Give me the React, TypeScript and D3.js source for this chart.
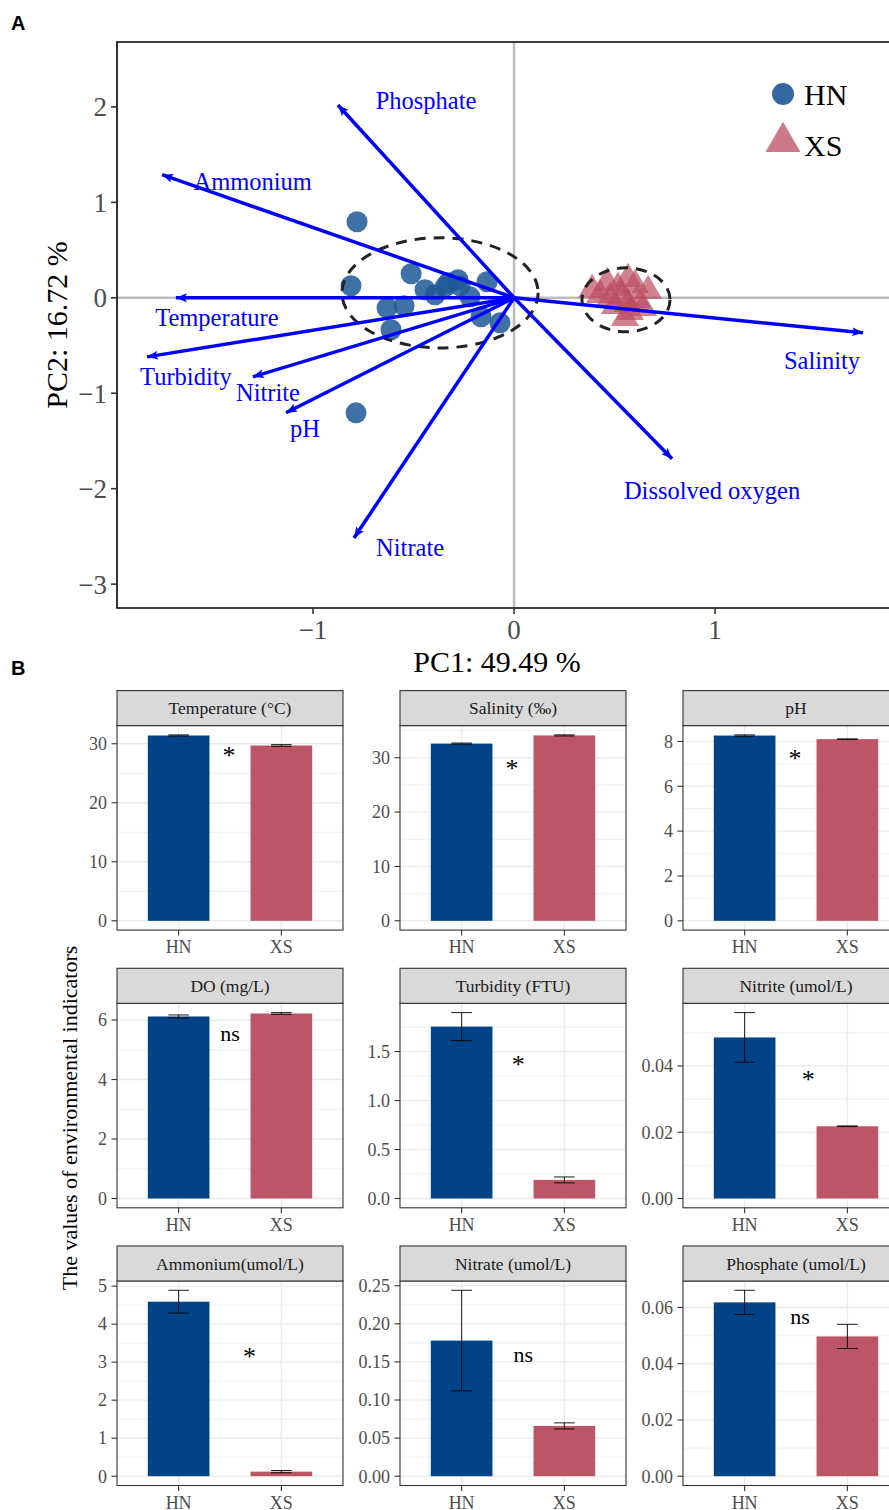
import React from "react";
import * as d3 from "d3";

// ---------- PCA data ----------
const hnPC1 = [-0.781, -0.811, -0.512, -0.443, -0.393, -0.632, -0.547, -0.612, -0.328, -0.279, -0.269, -0.134, -0.219, -0.164, -0.07, -0.343, -0.786];
const hnPC2 = [0.797, 0.126, 0.252, 0.084, 0.031, -0.105, -0.084, -0.335, 0.157, 0.189, 0.126, 0.168, 0.01, -0.199, -0.262, 0.115, -1.205];
const xsPC1 = [0.388, 0.463, 0.567, 0.667, 0.537, 0.612, 0.502, 0.577, 0.642, 0.552, 0.428, 0.602, 0.517, 0.567, 0.478];
const xsPC2 = [0.084, 0.157, 0.199, 0.073, 0.021, -0.021, -0.084, -0.147, -0.105, -0.21, 0.031, 0.136, 0.105, -0.063, 0.0];

const loadNames = ["Phosphate", "Ammonium", "Temperature", "Turbidity", "Nitrite", "pH", "Nitrate", "Dissolved oxygen", "Salinity"];
const loadPC1 = [-0.876, -1.751, -1.682, -1.826, -1.299, -1.134, -0.796, 0.786, 1.736];
const loadPC2 = [2.02, 1.29, 0.0, -0.619, -0.828, -1.205, -2.516, -1.687, -0.367];
const labelPC1 = [-0.438, -1.30, -1.478, -1.632, -1.224, -1.04, -0.517, 0.985, 1.532];
const labelPC2 = [2.065, 1.22, -0.21, -0.828, -0.996, -1.373, -2.62, -2.023, -0.66];

const pcaXTicks = [-1, 0, 1];
const pcaYTicks = [2, 1, 0, -1, -2, -3];

// ---------- Bar data ----------
const groups = ["HN", "XS"];
const panelTitles = ["Temperature (°C)", "Salinity (‰)", "pH", "DO (mg/L)", "Turbidity (FTU)", "Nitrite (umol/L)", "Ammonium(umol/L)", "Nitrate (umol/L)", "Phosphate (umol/L)"];
const hnMean = [31.4, 32.6, 8.26, 6.12, 1.755, 0.0486, 4.59, 0.178, 0.0618];
const hnSe = [0.1, 0.1, 0.03, 0.05, 0.143, 0.0075, 0.3, 0.066, 0.0043];
const xsMean = [29.7, 34.1, 8.1, 6.22, 0.19, 0.0218, 0.12, 0.066, 0.0497];
const xsSe = [0.15, 0.1, 0.01, 0.03, 0.03, 0.0001, 0.03, 0.004, 0.0043];
const sigLabel = ["*", "*", "*", "ns", "*", "*", "*", "ns", "ns"];
const sigX = [1.49, 1.49, 1.49, 1.5, 1.55, 1.62, 1.69, 1.6, 1.54];
const sigY = [28.9, 28.9, 7.46, 5.45, 1.415, 0.0373, 3.28, 0.157, 0.0558];
const panelTicks = [
  [0, 10, 20, 30],
  [0, 10, 20, 30],
  [0, 2, 4, 6, 8],
  [0, 2, 4, 6],
  [0, 0.5, 1.0, 1.5],
  [0, 0.02, 0.04],
  [0, 1, 2, 3, 4, 5],
  [0, 0.05, 0.1, 0.15, 0.2, 0.25],
  [0, 0.02, 0.04, 0.06],
];
const tickDecimals = [0, 0, 0, 0, 1, 2, 0, 2, 2];

const SERIF = "'Liberation Serif', 'Times New Roman', serif";
const HN_COL = "#004386";
const XS_COL = "#bc5565";

function fmtMinus(v: number) {
  return v < 0 ? "\u2212" + Math.abs(v) : String(v);
}

function PCA() {
  const x = d3.scaleLinear().domain([-1.975, 1.9]).range([117, 896]);
  const y = d3.scaleLinear().domain([-3.25, 2.68]).range([608, 42]);
  const x0 = x(0), y0 = y(0);
  const tri = d3.symbol().type(d3.symbolTriangle).size(340)();
  return (
    <g>
      <defs>
        <marker id="arr" markerUnits="userSpaceOnUse" markerWidth="12" markerHeight="10" refX="11" refY="5" orient="auto">
          <path d="M0,0.5 L11,5 L0,9.5 L2.5,5 z" fill="#0000ff" />
        </marker>
        <clipPath id="pcaClip">
          <rect x={117} y={42} width={780} height={566} />
        </clipPath>
      </defs>
      <g clipPath="url(#pcaClip)">
        <line x1={x0} x2={x0} y1={42} y2={608} stroke="#bdbdbd" strokeWidth={2.5} />
        <line x1={117} x2={896} y1={y0} y2={y0} stroke="#bdbdbd" strokeWidth={2.5} />
        {hnPC1.map((v, i) => (
          <circle key={"h" + i} cx={x(v)} cy={y(hnPC2[i])} r={10.5} fill="#1f5896" fillOpacity={0.85} />
        ))}
        {xsPC1.map((v, i) => (
          <path key={"x" + i} d={tri as string} transform={`translate(${x(v)},${y(xsPC2[i])})`} fill="#bc4d60" fillOpacity={0.7} />
        ))}
        <ellipse cx={x(-0.368)} cy={y(0.052)} rx={x(0.488) - x0} ry={y0 - y(0.577)} fill="none" stroke="#222" strokeWidth={3} strokeDasharray="11,8" />
        <ellipse cx={x(0.557)} cy={y(-0.021)} rx={x(0.219) - x0} ry={y0 - y(0.335)} fill="none" stroke="#222" strokeWidth={3} strokeDasharray="11,8" />
        {loadPC1.map((v, i) => (
          <line key={"a" + i} x1={x0} y1={y0} x2={x(v)} y2={y(loadPC2[i])} stroke="#0000ff" strokeWidth={3.5} markerEnd="url(#arr)" />
        ))}
        {loadNames.map((n, i) => (
          <text key={"l" + i} x={x(labelPC1[i])} y={y(labelPC2[i])} textAnchor="middle" dominantBaseline="central" fill="#0000ff" fontSize={24.5} fontFamily={SERIF}>{n}</text>
        ))}
        {/* legend */}
        <circle cx={783} cy={94} r={11} fill="#1f5896" fillOpacity={0.9} />
        <path d={tri as string} transform="translate(783,142) scale(1.25)" fill="#bc4d60" fillOpacity={0.75} />
        <text x={804} y={105} fontSize={30} fontFamily={SERIF} fill="#000">HN</text>
        <text x={804} y={156} fontSize={30} fontFamily={SERIF} fill="#000">XS</text>
      </g>
      {/* border */}
      <path d="M900,42 L117,42 L117,608 L900,608" fill="none" stroke="#000" strokeWidth={1.6} />
      {pcaYTicks.map((t) => (
        <g key={"yt" + t}>
          <line x1={111} x2={117} y1={y(t)} y2={y(t)} stroke="#333" strokeWidth={1.6} />
          <text x={107} y={y(t)} dy="0.35em" textAnchor="end" fontSize={27} fontFamily={SERIF} fill="#4d4d4d">{fmtMinus(t)}</text>
        </g>
      ))}
      {pcaXTicks.map((t) => (
        <g key={"xt" + t}>
          <line x1={x(t)} x2={x(t)} y1={608} y2={614} stroke="#333" strokeWidth={1.6} />
          <text x={x(t)} y={639} textAnchor="middle" fontSize={27} fontFamily={SERIF} fill="#4d4d4d">{fmtMinus(t)}</text>
        </g>
      ))}
      <text x={497} y={672} textAnchor="middle" fontSize={30} fontFamily={SERIF} fill="#000">PC1: 49.49 %</text>
      <text transform="translate(67,325) rotate(-90)" textAnchor="middle" fontSize={30} fontFamily={SERIF} fill="#000">PC2: 16.72 %</text>
    </g>
  );
}

function BarPanel({ i }: { i: number }) {
  const col = i % 3, row = Math.floor(i / 3);
  const left = 117 + col * 283;
  const W = 226;
  const stripTop = 690.6 + row * 277.7;
  const stripH = 35;
  const top = stripTop + stripH;
  const bottom = top + 204.5;
  const means = [hnMean[i], xsMean[i]];
  const ses = [hnSe[i], xsSe[i]];
  const yMax = d3.max(means.map((m, k) => m + ses[k])) as number;
  const y = d3.scaleLinear().domain([-0.05 * yMax, 1.05 * yMax]).range([bottom, top]);
  const x = d3.scaleBand().domain(groups).range([left, left + W]).paddingInner(0.4).paddingOuter(0.3);
  const bw = x.bandwidth();
  const step = x.step();
  const cx = (g: string) => (x(g) as number) + bw / 2;
  const ticks = panelTicks[i];
  const tstep = ticks[1] - ticks[0];
  const minors: number[] = [];
  for (let k = -1; k < ticks.length; k++) {
    const v = ticks[0] + (k + 0.5) * tstep;
    if (y(v) >= top && y(v) <= bottom) minors.push(v);
  }
  const sx = cx("HN") + (sigX[i] - 1) * step;
  const lab = sigLabel[i];
  const fs = lab === "*" ? 26 : 22;
  const baseOff = lab === "*" ? 0.52 * fs : 0.23 * fs;
  return (
    <g>
      <rect x={left} y={top} width={W} height={bottom - top} fill="#fff" />
      {minors.map((v) => (
        <line key={"m" + v} x1={left} x2={left + W} y1={y(v)} y2={y(v)} stroke="#ebebeb" strokeWidth={0.8} />
      ))}
      {ticks.map((v) => (
        <line key={"g" + v} x1={left} x2={left + W} y1={y(v)} y2={y(v)} stroke="#ebebeb" strokeWidth={1.4} />
      ))}
      {groups.map((g) => (
        <line key={"vg" + g} x1={cx(g)} x2={cx(g)} y1={top} y2={bottom} stroke="#ebebeb" strokeWidth={1.4} />
      ))}
      {groups.map((g, k) => (
        <rect key={"b" + g} x={x(g) as number} y={y(means[k])} width={bw} height={y(0) - y(means[k])} fill={k === 0 ? HN_COL : XS_COL} />
      ))}
      {groups.map((g, k) => {
        const hi = y(means[k] + ses[k]);
        const lo = y(means[k] - ses[k]);
        const c = cx(g);
        const hw = step * 0.1;
        return (
          <g key={"e" + g} stroke="#000" strokeWidth={0.9}>
            <line x1={c} x2={c} y1={hi} y2={lo} />
            <line x1={c - hw} x2={c + hw} y1={hi} y2={hi} />
            <line x1={c - hw} x2={c + hw} y1={lo} y2={lo} />
          </g>
        );
      })}
      <text x={sx} y={y(sigY[i]) + baseOff} textAnchor="middle" fontSize={fs} fontFamily={SERIF} fill="#000">{lab}</text>
      <rect x={left} y={top} width={W} height={bottom - top} fill="none" stroke="#333" strokeWidth={1.1} />
      <rect x={left} y={stripTop} width={W} height={stripH} fill="#d9d9d9" stroke="#333" strokeWidth={1.1} />
      <text x={left + W / 2} y={stripTop + stripH / 2 + 6} textAnchor="middle" fontSize={17.5} fontFamily={SERIF} fill="#1a1a1a">{panelTitles[i]}</text>
      {ticks.map((v) => (
        <g key={"t" + v}>
          <line x1={left - 5.5} x2={left} y1={y(v)} y2={y(v)} stroke="#333" strokeWidth={1.1} />
          <text x={left - 10} y={y(v)} dy="0.35em" textAnchor="end" fontSize={18} fontFamily={SERIF} fill="#4d4d4d">{v.toFixed(tickDecimals[i])}</text>
        </g>
      ))}
      {groups.map((g) => (
        <g key={"xl" + g}>
          <line x1={cx(g)} x2={cx(g)} y1={bottom} y2={bottom + 5.5} stroke="#333" strokeWidth={1.1} />
          <text x={cx(g)} y={bottom + 23} textAnchor="middle" fontSize={18} fontFamily={SERIF} fill="#4d4d4d">{g}</text>
        </g>
      ))}
    </g>
  );
}

export default function App() {
  return (
    <svg width={889} height={1510} style={{ position: "absolute", left: 0, top: 0, background: "#fff" }}>
      <rect x={0} y={0} width={889} height={1510} fill="#fff" />
      <text x={11} y={30} fontSize={20} fontWeight="bold" fontFamily="'Liberation Sans', Arial, sans-serif">A</text>
      <text x={11} y={675} fontSize={20} fontWeight="bold" fontFamily="'Liberation Sans', Arial, sans-serif">B</text>
      <PCA />
      {panelTitles.map((_, i) => (
        <BarPanel key={i} i={i} />
      ))}
      <text transform="translate(77,1118) rotate(-90)" textAnchor="middle" fontSize={22} fontFamily={SERIF} fill="#000">The values of environmental indicators</text>
    </svg>
  );
}
